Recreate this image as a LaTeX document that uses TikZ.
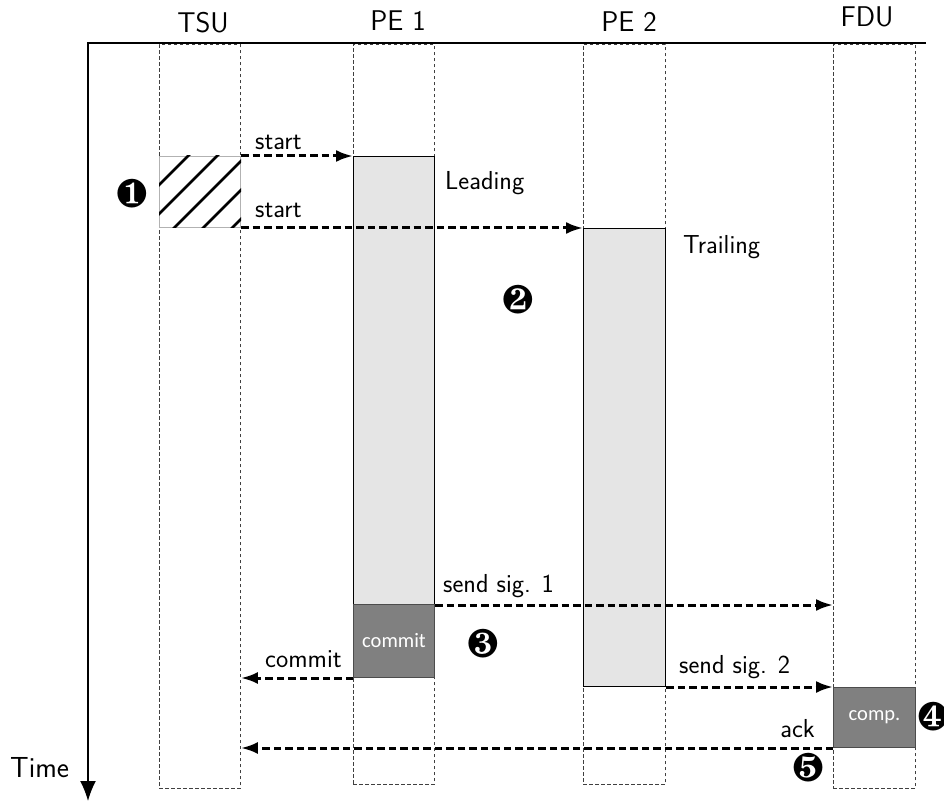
\documentclass[tikz,border=0pt]{standalone}
\usepackage{fontspec}
\usepackage{pifont}
\newfontfamily\boxfont{Carlito}
\usetikzlibrary{arrows.meta}

\begin{document}
\begin{tikzpicture}[x=1pt,y=-1pt,
  lane/.style={draw=black!75, dash pattern=on 3.5pt off 2.5pt, line width=0.9pt,
    rectangle, inner sep=0pt, anchor=north west},
  box/.style={rectangle, inner sep=0pt, anchor=north west},
  busy/.style={box, fill=black!10, draw=black, line width=1pt},
  work/.style={box, fill=black!50, draw=black!70, line width=1pt,
    text=white, font=\boxfont\fontsize{20.5}{24}\selectfont},
  sig/.style={line width=3pt, dash pattern=on 7.5pt off 4pt,
    -{Latex[length=17pt,width=12pt]}},
  lbl/.style={inner sep=0pt, font=\sffamily\fontsize{26}{30}\selectfont},
  head/.style={inner sep=0pt, anchor=base, font=\sffamily\fontsize{28.5}{32}\selectfont},
  stepmark/.style={inner sep=0pt, font=\fontsize{40}{40}\selectfont},
]
\clip (0,0) rectangle (944,802);

% lanes of the four units
\node[lane, minimum width=81pt, minimum height=744pt] (tsu) at (159,44) {};
\node[lane, minimum width=81pt, minimum height=740pt] (pe1) at (353,44) {};
\node[lane, minimum width=82pt, minimum height=740pt] (pe2) at (583,44) {};
\node[lane, minimum width=82pt, minimum height=744pt] (fdu) at (833,44) {};

% lane headings
\node[head] (h-tsu) at (203,33) {TSU};
\node[head] (h-pe1) at (398,31) {PE 1};
\node[head] (h-pe2) at (629,32) {PE 2};
\node[head] (h-fdu) at (867,27) {FDU};

% time axis
\coordinate (xend) at (926,43);
\coordinate (origin) at (88,43);
\coordinate (tend) at (88,801);
\draw[line width=1.5pt, -{Latex[length=20pt,width=16pt]}] (xend) -- (origin) -- (tend);
\node[lbl, anchor=base west, font=\sffamily\fontsize{29}{32}\selectfont] (time) at (10,777) {Time};

% activity boxes
\node[box, draw=black!30, line width=1pt, minimum width=81pt, minimum height=71pt] (hatch) at (159,156) {};
\begin{scope}
  \clip (hatch.north west) rectangle (hatch.south east);
  \foreach \c in {344,373,402,431,460}
    \draw[line width=2.8pt] (100,\c-100) -- (300,\c-300);
\end{scope}
\node[busy, minimum width=81pt, minimum height=448pt] (lead) at (353,156) {};
\node[work, minimum width=81pt, minimum height=73pt] (commit) at (353,604) {commit};
\node[busy, minimum width=82pt, minimum height=458pt] (trail) at (583,228) {};
\node[work, minimum width=82pt, minimum height=60pt] (comp) at (833,687) {comp.};

% messages
\draw[sig] (hatch.north east) -- (lead.north west);
\draw[sig] (hatch.south east) -- (hatch.south east -| trail.west);
\draw[sig] (lead.south east) -- (lead.south east -| fdu.west);
\draw[sig] (commit.south west) -- (commit.south west -| tsu.east);
\draw[sig] (trail.south east) -- (trail.south east -| fdu.west);
\draw[sig] (comp.south west) -- (comp.south west -| tsu.east);

% labels
\node[lbl, anchor=base west] (l-start1) at (255,150) {start};
\node[lbl, anchor=base west] (l-start2) at (255,218) {start};
\node[lbl, anchor=base west] (l-lead) at (445,190) {Leading};
\node[lbl, anchor=base west] (l-trail) at (683,253) {Trailing};
\node[lbl, anchor=base west] (l-sig1) at (443,592) {send sig. 1};
\node[lbl, anchor=base west] (l-commit) at (265,667) {commit};
\node[lbl, anchor=base west] (l-sig2) at (679,673) {send sig. 2};
\node[lbl, anchor=base east] (l-ack) at (815,737) {ack};

% step markers
\node[stepmark] (m1) at (132,194) {\ding{182}};
\node[stepmark] (m2) at (518,300) {\ding{183}};
\node[stepmark] (m3) at (483,644) {\ding{184}};
\node[stepmark] (m4) at (933,717) {\ding{185}};
\node[stepmark] (m5) at (808,768) {\ding{186}};
\end{tikzpicture}
\end{document}
